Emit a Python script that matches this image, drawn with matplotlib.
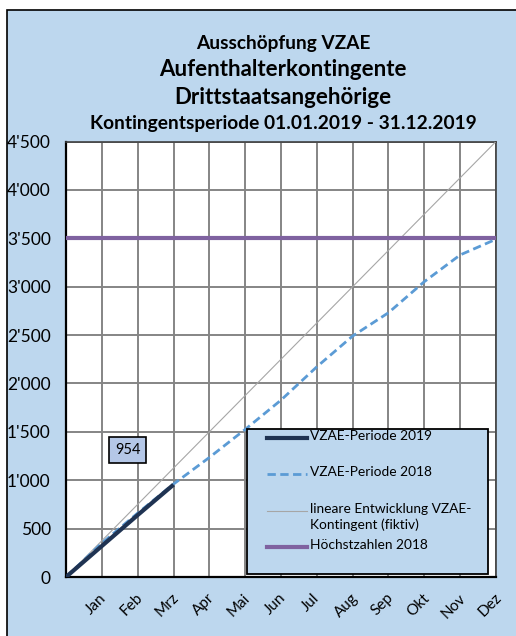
import matplotlib
matplotlib.use("Agg")
import matplotlib.pyplot as plt
import matplotlib.transforms as mtransforms
from matplotlib.patches import Rectangle
from matplotlib.lines import Line2D
from matplotlib.ticker import FuncFormatter

plt.rcParams['font.family'] = ['Lato', 'DejaVu Sans']

# --- data -----------------------------------------------------------------
months = ['Jan', 'Feb', 'Mrz', 'Apr', 'Mai', 'Jun', 'Jul', 'Aug', 'Sep', 'Okt', 'Nov', 'Dez']
vzae_2019 = [0, 320, 640, 954]
vzae_2018 = [0, 350, 660, 960, 1235, 1525, 1828, 2172, 2490, 2731, 3052, 3328, 3490]
linear_kontingent = [0, 4500]      # start / end of period (fiktiv)
hoechstzahl_2018 = 3500

# --- styles ---------------------------------------------------------------
bg_blue = '#BDD7EE'
c2019 = '#1F3352'
c2018 = '#5B9BD5'
clin = '#A6A6A6'
cmax = '#7F62A0'

W, H = 516, 636
fig = plt.figure(figsize=(W / 100, H / 100), dpi=100, facecolor='white')

# blue chart background with black frame (left and top visible)
fig.patches.append(Rectangle((7 / W, -0.05), 1.0, (H - 10) / H + 0.05,
                             transform=fig.transFigure, facecolor=bg_blue,
                             edgecolor='black', linewidth=1.2, zorder=-10))

ax = fig.add_axes([66 / W, 1 - 577 / H, (496 - 66) / W, (577 - 141.5) / H])
ax.set_zorder(1)
ax.set_facecolor('white')

x_all = list(range(len(months) + 1))
ax.plot(x_all[:len(vzae_2019)], vzae_2019, color=c2019, lw=3, zorder=5,
        solid_capstyle='butt')
ax.plot(x_all, vzae_2018, color=c2018, lw=2, ls=(0, (3, 1.6)), zorder=4)
ax.plot([0, len(months)], linear_kontingent, color=clin, lw=0.8, zorder=3)
ax.axhline(hoechstzahl_2018, color=cmax, lw=3, zorder=3)

ax.set_xlim(0, len(months))
ax.set_ylim(0, 4500)
ax.set_xticks(range(1, len(months) + 1))
ax.set_xticklabels(months, rotation=45, ha='center', va='top', fontsize=11)
ax.set_yticks(range(0, 4501, 500))
ax.yaxis.set_major_formatter(FuncFormatter(lambda v, p: f"{int(v):,}".replace(',', "'")))
ax.tick_params(axis='y', length=0, pad=11, labelsize=12.5)
ax.tick_params(axis='x', length=0, pad=10)
offset = mtransforms.ScaledTranslation(-6 / 100, 0, fig.dpi_scale_trans)
for lab in ax.get_xticklabels():
    lab.set_transform(lab.get_transform() + offset)

ax.grid(True, color='#858585', lw=1.4, zorder=1)
ax.set_axisbelow(True)
for side in ['top', 'right']:
    ax.spines[side].set_color('#404040')
    ax.spines[side].set_linewidth(1.2)
for side in ['left', 'bottom']:
    ax.spines[side].set_color('black')
    ax.spines[side].set_linewidth(1.6)

# data label of last 2019 value
ax.text(1.72, 1313, f"{vzae_2019[-1]}", fontsize=10.5, ha='center', va='center',
        bbox=dict(boxstyle='square,pad=0.4', facecolor='#B4C7E7', edgecolor='black', lw=1.2),
        zorder=6)

# titles
cx = 283 / W
fig.text(cx, 1 - 43 / H, 'Ausschöpfung VZAE', ha='center', va='center', fontsize=13.7, fontweight='bold')
fig.text(cx, 1 - 70 / H, 'Aufenthalterkontingente', ha='center', va='center', fontsize=16, fontweight='bold')
fig.text(cx, 1 - 97 / H, 'Drittstaatsangehörige', ha='center', va='center', fontsize=16, fontweight='bold')
fig.text(cx, 1 - 124 / H, 'Kontingentsperiode 01.01.2019 - 31.12.2019', ha='center', va='center',
         fontsize=13.8, fontweight='bold')

# legend box (drawn in figure pixels)
fig.patches.append(Rectangle((247 / W, 1 - 574 / H), (488 - 247) / W, (574 - 428.5) / H,
                             transform=fig.transFigure, facecolor=bg_blue,
                             edgecolor='black', linewidth=1.3, zorder=10))
entries = [
    (437.7, 'VZAE-Periode 2019', dict(color=c2019, lw=3)),
    (474, 'VZAE-Periode 2018', dict(color=c2018, lw=2, ls=(0, (3, 1.6)))),
    (511, 'lineare Entwicklung VZAE-\nKontingent (fiktiv)', dict(color=clin, lw=0.8)),
    (546.7, 'Höchstzahlen 2018', dict(color=cmax, lw=3)),
]
for y, label, style in entries:
    yf = 1 - y / H
    fig.lines.append(Line2D([267 / W, 307 / W], [yf, yf], transform=fig.transFigure,
                            zorder=11, **style))
    fig.text(310 / W, yf + 8 / H, label, ha='left', va='top', fontsize=9.9,
             linespacing=1.35, zorder=11)

fig.savefig('out.png', dpi=100, facecolor=fig.get_facecolor())
